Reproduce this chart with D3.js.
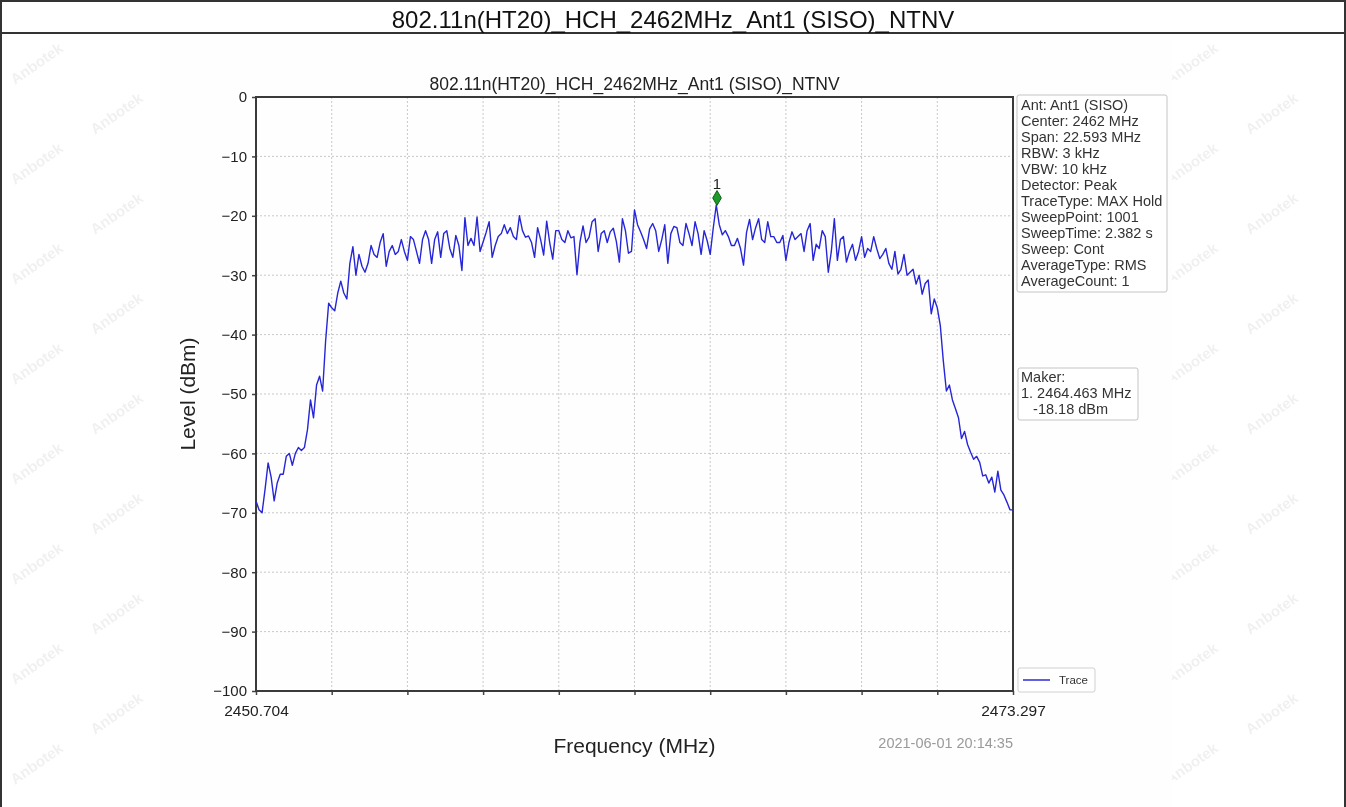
<!DOCTYPE html>
<html>
<head>
<meta charset="utf-8">
<script src="https://cdn.jsdelivr.net/npm/d3@7"></script>
<style>
  html, body { margin: 0; padding: 0; background: #ffffff; }
  svg { display: block; font-family: "Liberation Sans", Arial, sans-serif; }
</style>
</head>
<body>
<svg id="chart" width="1346" height="807"></svg>
<script>
// ---------------- data ----------------
const pageTitle = "802.11n(HT20)_HCH_2462MHz_Ant1 (SISO)_NTNV";
const chartTitle = "802.11n(HT20)_HCH_2462MHz_Ant1 (SISO)_NTNV";
const freqStart = 2450.704;
const freqStop = 2473.297;
const sweepPoints = 1001;
const sampleStep = 4; // every 4th sweep point
const yTicks = [0, -10, -20, -30, -40, -50, -60, -70, -80, -90, -100];
const xTickLabels = ["2450.704", "2473.297"];
const traceLevels = [
  -68,-69.5,-70,-66,-61.6,-64,-68,-65,-63.5,-63.5,
  -60.5,-60,-62,-60,-59,-59.5,-59,-56,-51,-54,
  -48.5,-47,-49.5,-41,-34.7,-35.5,-36,-33,-31,-33,
  -34,-28,-25.2,-30,-26.5,-28.5,-29.5,-28,-25,-26.5,
  -27,-24.5,-23,-28.5,-26,-25,-26.5,-26,-24,-26,
  -27.5,-23.5,-24,-26,-28,-24,-22.5,-24,-28,-24,
  -22.7,-27,
  -23,-22.5,-25.5,-27,-23.3,-25,-29.2,-20.3,-25,-23.8,
  -25,-20.2,-26,-24.4,-22.8,-21,-27,-25,-23.5,-23,
  -21.5,-23,-22,-23.5,-24,-20,-22.5,-23.6,-23.4,-24.5,
  -27,-22,-24,-26.6,-20.9,-24.5,-27.3,-22.5,-22.5,-24,
  -24.5,-22.5,-23.7,-23.5,-29.9,-24.4,-21.7,-24.5,-23.6,-21,
  -20.5,-26,-23,-22.5,-24.5,-22.7,-22.1,-24.3,-27.8,-20.5,
  -22.5,-26.3,-26,-19,-21.5,
  -22.7,-24,-25.5,-22.2,-21.3,-22.5,-26,-24,-21.5,-28,
  -23,-21.8,-22,-24.5,-25,-21.3,-23,-25,-21,-23,
  -26.5,-22.5,-24.2,-26.5,-22.1,-18.18,-21.5,-23.2,-22.5,-23.5,
  -25,-25,-23.8,-25.5,-28.3,-22.8,-20.6,-24,-22,-20.5,
  -24,-24.5,-21,-23.5,-23.5,-24.5,-24.5,-23.3,-27.5,-24.5,
  -22.7,-24,-23.5,-23,-26,-22.5,-21.3,-27.5,-24.8,-25.5,
  -22.5,-23.5,-29.5,-26,-20.5,
  -27.5,-24,-23.5,-27.8,-26,-24.8,-27.5,-26,-23.5,-27,
  -25.5,-26,-23.5,-25.5,-27.2,-26.5,-25.5,-28,-29,-26,
  -29.8,-29,-26.5,-30,-29.5,-29,-31.5,-30,-33.2,-31.4,
  -30.8,-36.5,-34,-35.5,-38.5,-44.5,-49.5,-48.5,-51,-52.5,
  -54,-57.5,-56.3,-58.5,-59.8,-61,-60.5,-61.5,-63.8,-63.6,
  -65,-64,-66.5,-63,-66.2,-67,-68.2,-69.5,-69.5
];
const markerFreq = 2464.463;
const markerLevel = -18.18;
const markerLabel = "1";
const infoLines = [
  "Ant: Ant1 (SISO)", "Center: 2462 MHz", "Span: 22.593 MHz", "RBW: 3 kHz",
  "VBW: 10 kHz", "Detector: Peak", "TraceType: MAX Hold", "SweepPoint: 1001",
  "SweepTime: 2.382 s", "Sweep: Cont", "AverageType: RMS", "AverageCount: 1"
];
const markerLines = ["Maker:", "1. 2464.463 MHz", "   -18.18 dBm"];
const legendLabel = "Trace";
const timestamp = "2021-06-01 20:14:35";
const xLabel = "Frequency (MHz)";
const yLabel = "Level (dBm)";

// ---------------- layout ----------------
const svg = d3.select("#chart");
const W = 1346, H = 807;
const plot = { left: 256, right: 1013, top: 97, bottom: 691 };

// watermark (decoration), kept inside the page
const wm = svg.append("g").attr("fill", "#000").attr("opacity", 0.06)
  .attr("font-size", 15).attr("font-weight", "bold");
for (let r = 0; r < 15; r++) {
  for (let c = 0; c < 9; c++) {
    const x = (r % 2 ? 95 : 15) + c * 165;
    const y = 85 + r * 50;
    if (x > W - 75 || y > H - 8) continue;
    wm.append("text").attr("transform", `translate(${x},${y}) rotate(-35)`).text("Anbotek");
  }
}

// chart image background
svg.append("rect").attr("x", 160).attr("y", 40).attr("width", 1012).attr("height", 767)
  .attr("fill", "#fefefe");

// outer table frame
const frame = svg.append("g").attr("stroke", "#333").attr("stroke-width", 2).attr("fill", "none");
frame.append("rect").attr("x", 1).attr("y", 1).attr("width", W - 2).attr("height", H + 10);
frame.append("line").attr("x1", 1).attr("x2", W - 1).attr("y1", 33).attr("y2", 33);

svg.append("text").attr("x", W / 2).attr("y", 28).attr("text-anchor", "middle")
  .attr("font-size", 24).attr("fill", "#111").text(pageTitle);

// scales
const x = d3.scaleLinear().domain([freqStart, freqStop]).range([plot.left, plot.right]);
const y = d3.scaleLinear().domain([-100, 0]).range([plot.bottom, plot.top]);
const idxToFreq = d3.scaleLinear().domain([0, sweepPoints - 1]).range([freqStart, freqStop]);
const xTickVals = d3.range(11).map(i => idxToFreq(i * (sweepPoints - 1) / 10));

// grid
const grid = svg.append("g").attr("stroke", "#c8c8c8").attr("stroke-width", 1)
  .attr("stroke-dasharray", "2,2");
grid.selectAll(".hg").data(yTicks.filter(v => v > -100 && v < 0)).join("line")
  .attr("x1", plot.left).attr("x2", plot.right).attr("y1", d => y(d)).attr("y2", d => y(d));
grid.selectAll(".vg").data(xTickVals.slice(1, -1)).join("line")
  .attr("y1", plot.top).attr("y2", plot.bottom).attr("x1", d => x(d)).attr("x2", d => x(d));

// axes
const yAxis = d3.axisLeft(y).tickValues(yTicks).tickSize(4).tickPadding(5);
const gy = svg.append("g").attr("transform", `translate(${plot.left},0)`).call(yAxis);
gy.select(".domain").remove();
gy.selectAll("line").attr("stroke", "#444").attr("stroke-width", 1.5);
gy.selectAll("text").attr("font-size", 15).attr("fill", "#222")
  .attr("font-family", "'Liberation Sans', Arial, sans-serif");

const xAxis = d3.axisBottom(x).tickValues(xTickVals).tickSize(4).tickPadding(10)
  .tickFormat((d, i) => i === 0 ? xTickLabels[0] : (i === xTickVals.length - 1 ? xTickLabels[1] : ""));
const gx = svg.append("g").attr("transform", `translate(0,${plot.bottom})`).call(xAxis);
gx.select(".domain").remove();
gx.selectAll("line").attr("stroke", "#444").attr("stroke-width", 1.5);
gx.selectAll("text").attr("font-size", 15.5).attr("fill", "#222")
  .attr("font-family", "'Liberation Sans', Arial, sans-serif");

// plot frame
svg.append("rect").attr("x", plot.left).attr("y", plot.top)
  .attr("width", plot.right - plot.left).attr("height", plot.bottom - plot.top)
  .attr("fill", "none").attr("stroke", "#3a3a3a").attr("stroke-width", 2);

// trace
const traceData = traceLevels.map((v, i) => ({ f: idxToFreq(i * sampleStep), v }));
const line = d3.line().x(d => x(d.f)).y(d => y(d.v));
svg.append("path").datum(traceData).attr("d", line).attr("fill", "none")
  .attr("stroke", "#2626d8").attr("stroke-width", 1.4).attr("stroke-linejoin", "round");

// marker
const mx = x(markerFreq), my = y(markerLevel) - 7;
svg.append("path").attr("d", d3.symbol(d3.symbolDiamond, 64)())
  .attr("transform", `translate(${mx},${my})`)
  .attr("fill", "#1e9a2a").attr("stroke", "#106018").attr("stroke-width", 1);
svg.append("text").attr("x", mx).attr("y", my - 9).attr("text-anchor", "middle")
  .attr("font-size", 15).attr("fill", "#222").text(markerLabel);

// titles & labels
svg.append("text").attr("x", (plot.left + plot.right) / 2).attr("y", 90)
  .attr("text-anchor", "middle").attr("font-size", 17.5).attr("fill", "#222").text(chartTitle);
svg.append("text").attr("x", (plot.left + plot.right) / 2).attr("y", 753)
  .attr("text-anchor", "middle").attr("font-size", 21).attr("fill", "#222").text(xLabel);
svg.append("text").attr("transform", `translate(195,${(plot.top + plot.bottom) / 2}) rotate(-90)`)
  .attr("text-anchor", "middle").attr("font-size", 21).attr("fill", "#222").text(yLabel);
svg.append("text").attr("x", plot.right).attr("y", 748).attr("text-anchor", "end")
  .attr("font-size", 14.5).attr("fill", "#9a9a9a").text(timestamp);

// info box
const info = svg.append("g");
info.append("rect").attr("x", 1017).attr("y", 95).attr("width", 150).attr("height", 197)
  .attr("rx", 2).attr("fill", "#fff").attr("stroke", "#c4c4c4");
info.selectAll("text").data(infoLines).join("text")
  .attr("x", 1021).attr("y", (d, i) => 110 + i * 16)
  .attr("font-size", 14.5).attr("fill", "#333").text(d => d);

// marker box
const mk = svg.append("g");
mk.append("rect").attr("x", 1018).attr("y", 368).attr("width", 120).attr("height", 52)
  .attr("rx", 2).attr("fill", "#fff").attr("stroke", "#c4c4c4");
mk.selectAll("text").data(markerLines).join("text")
  .attr("x", 1021).attr("y", (d, i) => 382 + i * 16)
  .style("white-space", "pre")
  .attr("font-size", 14.5).attr("fill", "#333").text(d => d);

// legend
const lg = svg.append("g");
lg.append("rect").attr("x", 1018).attr("y", 668).attr("width", 77).attr("height", 24)
  .attr("rx", 2).attr("fill", "#fff").attr("stroke", "#d0d0d0");
lg.append("line").attr("x1", 1023).attr("x2", 1050).attr("y1", 680).attr("y2", 680)
  .attr("stroke", "#6060e0").attr("stroke-width", 2);
lg.append("text").attr("x", 1059).attr("y", 684).attr("font-size", 11.5)
  .attr("fill", "#333").text(legendLabel);
</script>
</body>
</html>
